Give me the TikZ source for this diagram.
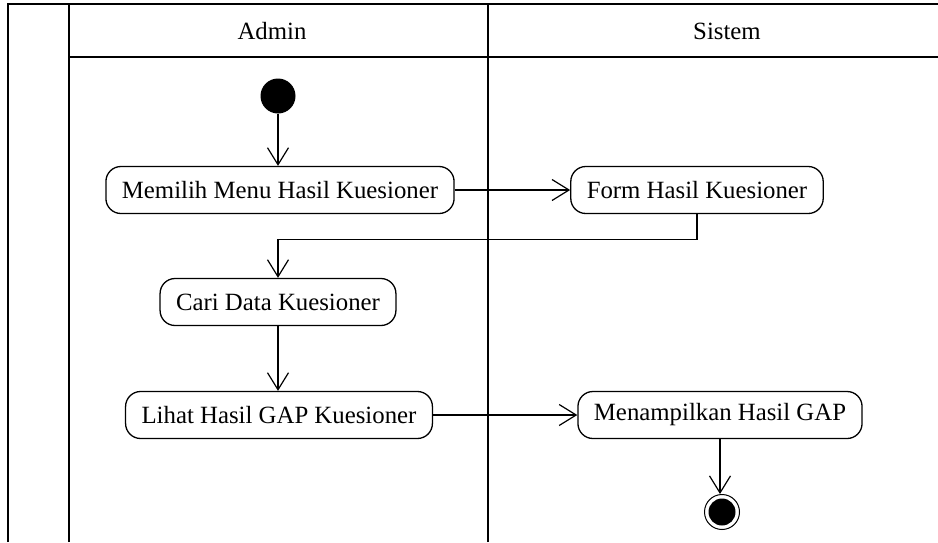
\documentclass[tikz,border=0pt]{standalone}
\usepackage{fontspec}
\setmainfont{Liberation Serif}
\usetikzlibrary{arrows.meta}
\begin{document}
\begin{tikzpicture}[x=1pt,y=-1pt,
  frame/.style={line width=2.4pt,black},
  activity/.style={draw,line width=1.3pt,rounded corners=15pt,minimum height=47pt,
    inner xsep=16pt,font=\fontsize{24.8}{29}\selectfont},
  lanetitle/.style={font=\fontsize{24.8}{29}\selectfont},
  flow/.style={line width=1.2pt,-{Straight Barb[length=17pt,width=21pt,line width=1.2pt]}},
  startnode/.style={circle,fill=black,minimum size=35pt,inner sep=0pt},
  endnode/.style={circle,draw,line width=1pt,minimum size=35pt,inner sep=0pt,
    path picture={\fill[black] (path picture bounding box.center) circle (13.5pt);}}
]
\useasboundingbox (0,0) rectangle (938,542);

% swimlane frame
\draw[frame] (8,542) -- (8,4) -- (938,4);
\draw[frame] (69,542) -- (69,4);
\draw[frame] (488,542) -- (488,4);
\draw[frame] (69,57) -- (938,57);
\node[lanetitle] (laneA) at (272,31) {Admin};
\node[lanetitle] (laneS) at (727,31) {Sistem};

% activities
\node[startnode] (start) at (278,96) {};
\node[activity] (memilih) at (280,190) {Memilih Menu Hasil Kuesioner};
\node[activity] (form) at (697,190) {Form Hasil Kuesioner};
\node[activity] (cari) at (278,302) {Cari Data Kuesioner};
\node[activity] (lihat) at (279,415) {Lihat Hasil GAP Kuesioner};
\node[activity] (tampil) at (720,415) {Menampilkan Hasil GAP};
\node[endnode] (finish) at (722,512) {};

% control flow
\draw[flow] (start) -- (start |- memilih.north);
\draw[flow] (memilih) -- (form);
\draw[flow] (form.south) -- ++(0,25) -| (cari.north);
\draw[flow] (cari) -- (cari |- lihat.north);
\draw[flow] (lihat) -- (tampil);
\draw[flow] (tampil) -- (tampil |- finish.north);
\end{tikzpicture}
\end{document}
